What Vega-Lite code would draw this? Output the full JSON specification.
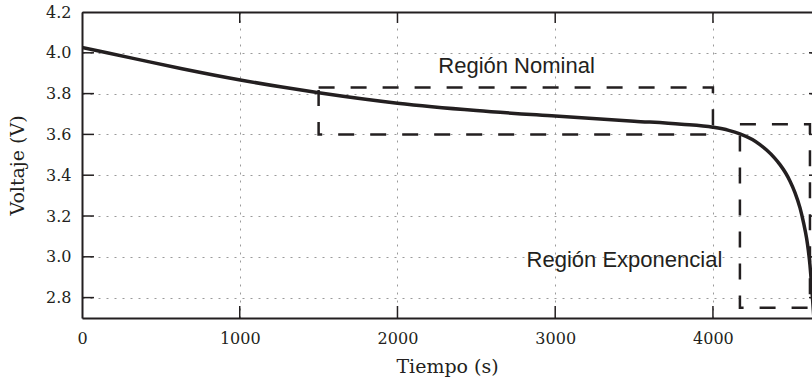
{
  "$schema": "https://vega.github.io/schema/vega-lite/v6.json",
  "width": 730,
  "height": 306,
  "autosize": {"type": "none"},
  "padding": {"left": 82, "top": 12, "right": 0, "bottom": 67},
  "background": "white",
  "config": {"view": {"stroke": null}, "font": "DejaVu Serif"},
  "datasets": {
    "curve": [
      {"t": 0, "v": 4.026},
      {"t": 317, "v": 3.974},
      {"t": 634, "v": 3.922},
      {"t": 995, "v": 3.868},
      {"t": 1268, "v": 3.832},
      {"t": 1501, "v": 3.804},
      {"t": 2000, "v": 3.753},
      {"t": 2500, "v": 3.717},
      {"t": 3000, "v": 3.69},
      {"t": 3500, "v": 3.665},
      {"t": 3800, "v": 3.65},
      {"t": 4000, "v": 3.635},
      {"t": 4100, "v": 3.62},
      {"t": 4171, "v": 3.603},
      {"t": 4250, "v": 3.575},
      {"t": 4298, "v": 3.55},
      {"t": 4342, "v": 3.522},
      {"t": 4390, "v": 3.485},
      {"t": 4425, "v": 3.452},
      {"t": 4460, "v": 3.412},
      {"t": 4488, "v": 3.372},
      {"t": 4520, "v": 3.315},
      {"t": 4552, "v": 3.24},
      {"t": 4575, "v": 3.165},
      {"t": 4594, "v": 3.09},
      {"t": 4605, "v": 3.03},
      {"t": 4615, "v": 2.96},
      {"t": 4622, "v": 2.895},
      {"t": 4628, "v": 2.83},
      {"t": 4640, "v": 2.7}
    ],
    "regions": [
      {"x1": 1500, "x2": 4000, "y1": 3.6, "y2": 3.83},
      {"x1": 4171, "x2": 4615, "y1": 2.75, "y2": 3.65}
    ],
    "labels": [
      {"t": 2755, "v": 3.901, "label": "Región Nominal"},
      {"t": 3439, "v": 2.952, "label": "Región Exponencial"}
    ],
    "xticks": [{"t": 0}, {"t": 1000}, {"t": 2000}, {"t": 3000}, {"t": 4000}],
    "yticks": [{"v": 2.8}, {"v": 3.0}, {"v": 3.2}, {"v": 3.4}, {"v": 3.6}, {"v": 3.8}, {"v": 4.0}, {"v": 4.2}]
  },
  "layer": [
    {
      "data": {"name": "curve"},
      "mark": {"type": "line", "color": "#231f20", "strokeWidth": 3.5, "clip": true, "interpolate": "monotone"},
      "encoding": {
        "x": {
          "field": "t", "type": "quantitative",
          "scale": {"domain": [0, 4628], "nice": false, "zero": false},
          "axis": {
            "orient": "bottom", "values": [0, 1000, 2000, 3000, 4000], "format": "d",
            "ticks": false,
            "domainColor": "#231f20", "domainWidth": 2,
            "labelFont": "DejaVu Serif", "labelFontSize": 16, "labelColor": "#231f20",
            "labelPadding": 12, "labelFlush": false, "labelOverlap": false,
            "grid": true, "gridColor": "#9a9a9a", "gridDash": [2, 6], "gridWidth": 1,
            "title": "Tiempo (s)", "titleFont": "DejaVu Serif", "titleFontSize": 19,
            "titleFontWeight": "normal", "titleColor": "#231f20", "titlePadding": 11
          }
        },
        "y": {
          "field": "v", "type": "quantitative",
          "scale": {"domain": [2.7, 4.2], "nice": false, "zero": false},
          "axis": {
            "orient": "left", "values": [2.8, 3.0, 3.2, 3.4, 3.6, 3.8, 4.0, 4.2], "format": ".1f",
            "ticks": false,
            "domainColor": "#231f20", "domainWidth": 2,
            "labelFont": "DejaVu Serif", "labelFontSize": 16, "labelColor": "#231f20",
            "labelPadding": 11, "labelFlush": false, "labelOverlap": false,
            "grid": true, "gridColor": "#9a9a9a", "gridDash": [2, 6], "gridWidth": 1,
            "title": "Voltaje (V)", "titleFont": "DejaVu Serif", "titleFontSize": 19,
            "titleFontWeight": "normal", "titleColor": "#231f20", "titlePadding": 18
          }
        }
      }
    },
    {
      "data": {"name": "regions"},
      "mark": {"type": "rect", "filled": false, "stroke": "#231f20", "strokeWidth": 2.5, "strokeDash": [16, 16], "clip": true},
      "encoding": {
        "x": {
          "field": "x1", "type": "quantitative",
          "scale": {"domain": [0, 4628], "nice": false, "zero": false},
          "axis": {
            "orient": "top", "labels": false, "title": null, "ticks": false, "grid": false,
            "domainColor": "#231f20", "domainWidth": 2
          }
        },
        "x2": {"field": "x2"},
        "y": {"field": "y1", "type": "quantitative", "scale": {"domain": [2.7, 4.2], "nice": false, "zero": false}, "axis": null},
        "y2": {"field": "y2"}
      }
    },
    {
      "data": {"name": "labels"},
      "mark": {"type": "text", "font": "Liberation Sans", "fontSize": 22, "color": "#231f20", "baseline": "alphabetic", "align": "center"},
      "encoding": {
        "x": {"field": "t", "type": "quantitative", "scale": {"domain": [0, 4628], "nice": false, "zero": false}, "axis": null},
        "y": {"field": "v", "type": "quantitative", "scale": {"domain": [2.7, 4.2], "nice": false, "zero": false}, "axis": null},
        "text": {"field": "label"}
      }
    },
    {
      "data": {"name": "xticks"},
      "mark": {"type": "tick", "orient": "vertical", "size": 24, "thickness": 1.5, "color": "#231f20", "opacity": 1, "clip": true},
      "encoding": {
        "x": {"field": "t", "type": "quantitative", "scale": {"domain": [0, 4628], "nice": false, "zero": false}, "axis": null},
        "y": {"datum": 2.7, "type": "quantitative", "scale": {"domain": [2.7, 4.2], "nice": false, "zero": false}, "axis": null}
      }
    },
    {
      "data": {"name": "xticks"},
      "mark": {"type": "tick", "orient": "vertical", "size": 22, "thickness": 1.5, "color": "#231f20", "opacity": 1, "clip": true},
      "encoding": {
        "x": {"field": "t", "type": "quantitative", "scale": {"domain": [0, 4628], "nice": false, "zero": false}, "axis": null},
        "y": {"datum": 4.2, "type": "quantitative", "scale": {"domain": [2.7, 4.2], "nice": false, "zero": false}, "axis": null}
      }
    },
    {
      "data": {"name": "yticks"},
      "mark": {"type": "tick", "orient": "horizontal", "size": 24, "thickness": 1.5, "color": "#231f20", "opacity": 1, "clip": true},
      "encoding": {
        "x": {"datum": 0, "type": "quantitative", "scale": {"domain": [0, 4628], "nice": false, "zero": false}, "axis": null},
        "y": {"field": "v", "type": "quantitative", "scale": {"domain": [2.7, 4.2], "nice": false, "zero": false}, "axis": null}
      }
    },
    {
      "data": {"name": "yticks"},
      "mark": {"type": "tick", "orient": "horizontal", "size": 24, "thickness": 1.5, "color": "#231f20", "opacity": 1, "clip": true},
      "encoding": {
        "x": {"datum": 4685, "type": "quantitative", "scale": {"domain": [0, 4628], "nice": false, "zero": false}, "axis": null},
        "y": {"field": "v", "type": "quantitative", "scale": {"domain": [2.7, 4.2], "nice": false, "zero": false}, "axis": null}
      }
    }
  ],
  "resolve": {"axis": {"x": "independent", "y": "independent"}}
}
